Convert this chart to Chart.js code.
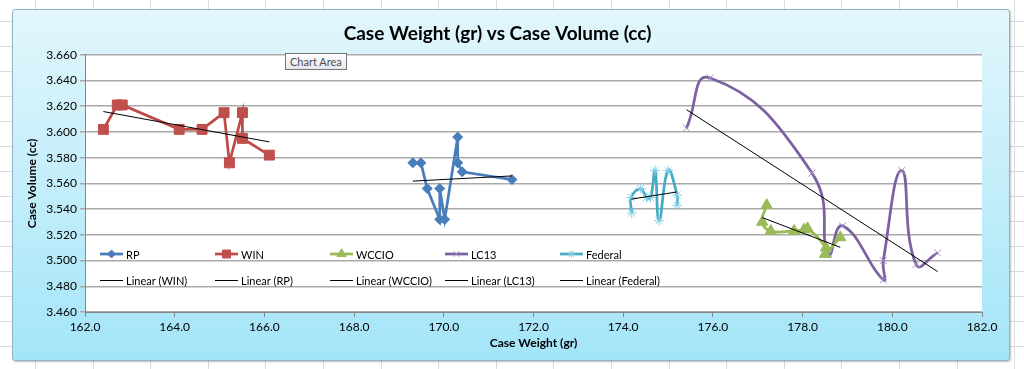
<!DOCTYPE html>
<html lang="en">
<head>
    <meta charset="UTF-8">
    <title>Case Weight vs Case Volume</title>
    <style>
        body {
            margin: 0;
            padding: 0;
            width: 1024px;
            height: 369px;
            overflow: hidden;
            position: relative;
            background-color: #fff;
            background-image:
                repeating-linear-gradient(to right, transparent 0, transparent 35px, #d9dcdf 35px, #d9dcdf 36px, transparent 36px, transparent 57.6px),
                repeating-linear-gradient(to bottom, transparent 0, transparent 21px, #d9dcdf 21px, #d9dcdf 22px, transparent 22px, transparent 25px);
        }

        #frame {
            position: absolute;
            left: 12px;
            top: 9px;
            width: 998px;
            height: 352px;
            box-sizing: border-box;
            border: 1px solid #8fb3c4;
            border-radius: 3px;
            background: linear-gradient(to bottom, #e2f6fc 0%, #c4eefa 50%, #a3e5f8 100%);
            box-shadow: 1px 1px 2px rgba(0, 0, 0, 0.25);
        }

        #tip {
            position: absolute;
            left: 285px;
            top: 53px;
            padding: 1px 4px;
            font-family: Lato, sans-serif;
            font-size: 11px;
            color: #4d4d4d;
            background: linear-gradient(to bottom, #ffffff, #e6e6ee);
            border: 1px solid #767676;
        }
    </style>
</head>
<body>
    <div id="frame"><canvas id="caseChart"></canvas></div>
    <div id="tip">Chart Area</div>

    <script src="https://cdn.jsdelivr.net/npm/chart.js"></script>
    <script>
        // values: x = case weight (gr), y = case volume (cc)
        const rpX = [169.31, 169.49, 169.63, 169.91, 169.91, 170.02, 170.31, 170.31, 170.41, 171.52];
        const rpY = [3.576, 3.576, 3.556, 3.532, 3.556, 3.532, 3.596, 3.576, 3.569, 3.563];

        const winX = [162.41, 162.72, 162.83, 164.10, 164.61, 165.10, 165.22, 165.51, 165.51, 166.11];
        const winY = [3.602, 3.621, 3.621, 3.602, 3.602, 3.615, 3.576, 3.615, 3.595, 3.582];

        const wccioX = [177.20, 177.10, 177.29, 177.81, 178.03, 178.11, 178.52, 178.50, 178.84];
        const wccioY = [3.543, 3.530, 3.523, 3.523, 3.524, 3.525, 3.510, 3.505, 3.518];

        const lc13X = [175.41, 175.94, 178.21, 178.58, 178.89, 179.80, 179.80, 180.21, 180.53, 181.01];
        const lc13Y = [3.603, 3.642, 3.568, 3.505, 3.527, 3.485, 3.500, 3.570, 3.497, 3.506];

        const federalX = [174.19, 174.18, 174.39, 174.52, 174.61, 174.71, 174.80, 175.00, 175.20, 175.20];
        const federalY = [3.537, 3.549, 3.556, 3.549, 3.549, 3.570, 3.531, 3.570, 3.551, 3.543];

        const seriesNames = ['RP', 'WIN', 'WCCIO', 'LC13', 'Federal'];
        const trendOrder = ['WIN', 'RP', 'WCCIO', 'LC13', 'Federal'];

        const xMin = 162, xMax = 182, xStep = 2;
        const yMin = 3.46, yMax = 3.66, yStep = 0.02;

        const FONT = "Lato, 'Open Sans', sans-serif";

        function toPoints(xs, ys) {
            return xs.map((x, i) => ({ x: x, y: ys[i] }));
        }

        // least squares line over the x range of a series (Excel "Linear" trendline)
        function linearTrend(xs, ys) {
            const n = xs.length;
            const mx = xs.reduce((a, b) => a + b, 0) / n;
            const my = ys.reduce((a, b) => a + b, 0) / n;
            let sxy = 0, sxx = 0;
            xs.forEach((x, i) => {
                sxy += (x - mx) * (ys[i] - my);
                sxx += (x - mx) * (x - mx);
            });
            const slope = sxy / sxx;
            const lo = Math.min(...xs), hi = Math.max(...xs);
            return [
                { x: lo, y: my + slope * (lo - mx) },
                { x: hi, y: my + slope * (hi - mx) }
            ];
        }

        const styles = {
            RP:      { color: '#4a7ebb', marker: 'rectRot',  radius: 5,   fill: '#4a7ebb', mBorder: '#4a7ebb', tension: 0 },
            WIN:     { color: '#be4b48', marker: 'rect',     radius: 7,   fill: '#c0504d', mBorder: '#be4b48', tension: 0 },
            WCCIO:   { color: '#98b954', marker: 'triangle', radius: 6.5, fill: '#9bbb59', mBorder: '#98b954', tension: 0.45 },
            LC13:    { color: '#7d60a0', marker: 'crossRot', radius: 5,   fill: '#a592c4', mBorder: '#a592c4', tension: 0.5 },
            Federal: { color: '#46aac5', marker: 'star',     radius: 5,   fill: '#86d2e6', mBorder: '#86d2e6', tension: 0.45 }
        };

        const seriesData = {
            RP: [rpX, rpY],
            WIN: [winX, winY],
            WCCIO: [wccioX, wccioY],
            LC13: [lc13X, lc13Y],
            Federal: [federalX, federalY]
        };

        const datasets = [];
        trendOrder.forEach(name => {
            const [xs, ys] = seriesData[name];
            datasets.push({
                label: 'Linear (' + name + ')',
                data: linearTrend(xs, ys),
                showLine: true,
                borderColor: '#000',
                borderWidth: 1,
                pointRadius: 0,
                order: 0
            });
        });
        seriesNames.forEach(name => {
            const [xs, ys] = seriesData[name];
            const s = styles[name];
            datasets.push({
                label: name,
                data: toPoints(xs, ys),
                showLine: true,
                borderColor: s.color,
                borderWidth: 2.75,
                tension: s.tension,
                pointStyle: s.marker,
                pointRadius: s.radius,
                pointBackgroundColor: s.fill,
                pointBorderColor: s.mBorder,
                pointBorderWidth: 1,
                order: 1
            });
        });

        // white plot area
        const plotBackground = {
            id: 'plotBackground',
            beforeDraw(chart) {
                const { ctx, chartArea: a } = chart;
                ctx.save();
                ctx.fillStyle = '#fff';
                ctx.fillRect(a.left, a.top, a.right - a.left, a.bottom - a.top);
                ctx.restore();
            }
        };

        // Excel style legend sitting inside the plot area, 2 rows x 5 columns
        const innerLegend = {
            id: 'innerLegend',
            afterDraw(chart) {
                const { ctx, chartArea: a } = chart;
                const colW = 115, lineLen = 23;
                ctx.save();
                ctx.font = '11px ' + FONT;
                ctx.textBaseline = 'middle';
                ctx.textAlign = 'left';
                seriesNames.forEach((name, i) => {
                    const s = styles[name];
                    const x = a.left + 15 + i * colW;
                    const y = a.bottom - 58;
                    ctx.strokeStyle = s.color;
                    ctx.lineWidth = 2.75;
                    ctx.beginPath();
                    ctx.moveTo(x, y);
                    ctx.lineTo(x + lineLen, y);
                    ctx.stroke();
                    ctx.fillStyle = s.fill;
                    ctx.strokeStyle = s.mBorder;
                    ctx.lineWidth = 1;
                    Chart.helpers.drawPoint(ctx, { pointStyle: s.marker, radius: s.radius * 0.8, rotation: 0, borderWidth: 1 }, x + lineLen / 2, y);
                    ctx.fillStyle = '#000';
                    ctx.fillText(name, x + lineLen + 3, y + 1);
                });
                trendOrder.forEach((name, i) => {
                    const x = a.left + 15 + i * colW;
                    const y = a.bottom - 32;
                    ctx.strokeStyle = '#000';
                    ctx.lineWidth = 1;
                    ctx.beginPath();
                    ctx.moveTo(x, y + 0.5);
                    ctx.lineTo(x + lineLen, y + 0.5);
                    ctx.stroke();
                    ctx.fillStyle = '#000';
                    ctx.fillText('Linear (' + name + ')', x + lineLen + 3, y + 1);
                });
                ctx.restore();
            }
        };

        const ctx = document.getElementById('caseChart').getContext('2d');
        new Chart(ctx, {
            type: 'scatter',
            data: { datasets: datasets },
            plugins: [plotBackground, innerLegend],
            options: {
                responsive: true,
                maintainAspectRatio: false,
                animation: false,
                layout: { padding: { left: 0, right: 27, top: 0, bottom: 0 } },
                plugins: {
                    legend: { display: false },
                    tooltip: { enabled: false },
                    title: {
                        display: true,
                        text: 'Case Weight (gr) vs Case Volume (cc)',
                        color: '#000',
                        font: { family: FONT, size: 19, weight: 'bold' },
                        padding: { top: 12, bottom: 10 }
                    }
                },
                scales: {
                    x: {
                        type: 'linear',
                        min: xMin,
                        max: xMax,
                        afterFit: s => { s.height = 48; },
                        ticks: {
                            stepSize: xStep,
                            color: '#000',
                            padding: 3,
                            font: { family: FONT, size: 12 },
                            callback: v => Number(v).toFixed(1)
                        },
                        grid: { drawOnChartArea: false, drawTicks: true, tickLength: 5, color: '#868686' },
                        border: { display: true, color: '#868686', width: 1 },
                        title: {
                            display: true,
                            text: 'Case Weight (gr)',
                            color: '#000',
                            font: { family: FONT, size: 12, weight: 'bold' },
                            padding: { top: 0, bottom: 10 }
                        }
                    },
                    y: {
                        type: 'linear',
                        min: yMin,
                        max: yMax,
                        afterFit: s => { s.width = 72; },
                        ticks: {
                            stepSize: yStep,
                            color: '#000',
                            padding: 3,
                            font: { family: FONT, size: 12 },
                            callback: v => Number(v).toFixed(3)
                        },
                        grid: { color: '#a9a9a9', lineWidth: 1.5, drawTicks: true, tickLength: 5 },
                        border: { display: true, color: '#868686', width: 1 },
                        title: {
                            display: true,
                            text: 'Case Volume (cc)',
                            color: '#000',
                            font: { family: FONT, size: 12, weight: 'bold' },
                            padding: { top: 12, bottom: 4 }
                        }
                    }
                }
            }
        });
    </script>
</body>
</html>
